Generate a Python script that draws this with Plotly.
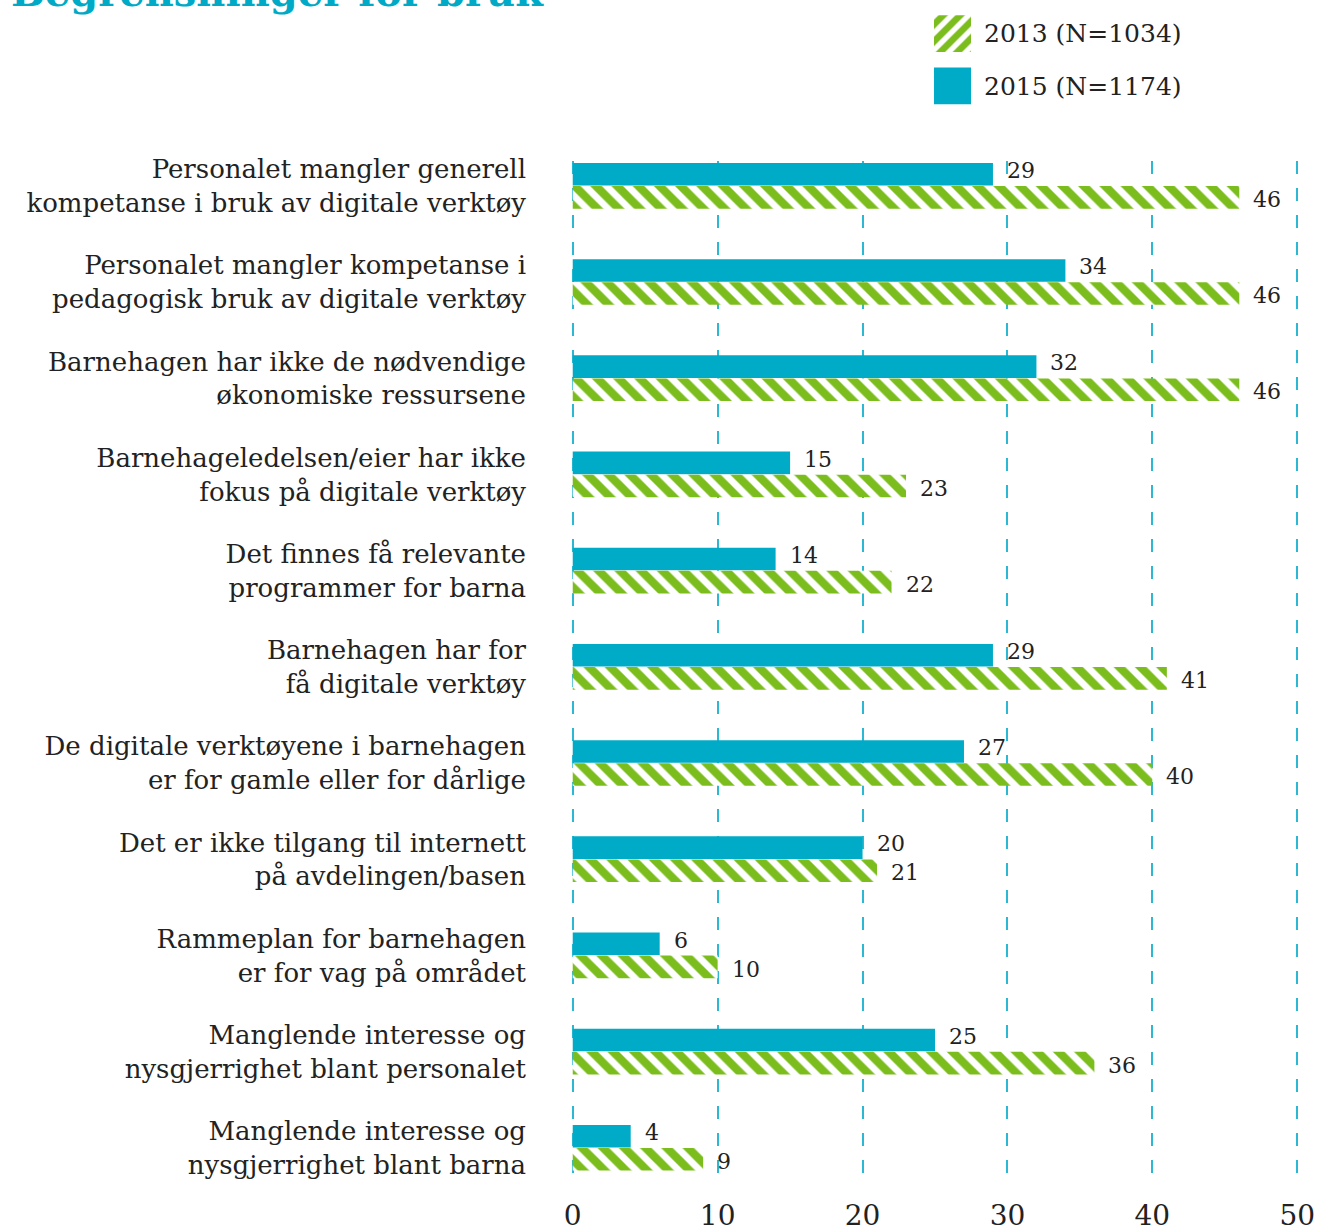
import plotly.graph_objects as go

categories = [
    "Personalet mangler generell<br>kompetanse i bruk av digitale verktøy",
    "Personalet mangler kompetanse i<br>pedagogisk bruk av digitale verktøy",
    "Barnehagen har ikke de nødvendige<br>økonomiske ressursene",
    "Barnehageledelsen/eier har ikke<br>fokus på digitale verktøy",
    "Det finnes få relevante<br>programmer for barna",
    "Barnehagen har for<br>få digitale verktøy",
    "De digitale verktøyene i barnehagen<br>er for gamle eller for dårlige",
    "Det er ikke tilgang til internett<br>på avdelingen/basen",
    "Rammeplan for barnehagen<br>er for vag på området",
    "Manglende interesse og<br>nysgjerrighet blant personalet",
    "Manglende interesse og<br>nysgjerrighet blant barna",
]
values_2015 = [29, 34, 32, 15, 14, 29, 27, 20, 6, 25, 4]
values_2013 = [46, 46, 46, 23, 22, 41, 40, 21, 10, 36, 9]
legend_labels = ["2013 (N=1034)", "2015 (N=1174)"]
x_ticks = [0, 10, 20, 30, 40, 50]
title_text = "Begrensninger for bruk"

BLUE = "#00abc7"
GREEN = "#7cbd1e"
GRID = "#2cb8d2"
TXT = "#222222"
FONT = "DejaVu Serif"

fig = go.Figure()

fig.add_trace(go.Bar(
    y=categories, x=values_2015, orientation="h",
    width=0.235, offset=-0.24,
    marker=dict(color=BLUE, line=dict(width=0)),
    showlegend=False, hoverinfo="x",
))
fig.add_trace(go.Bar(
    y=categories, x=values_2013, orientation="h",
    width=0.235, offset=0.0,
    marker=dict(color="white", line=dict(width=0),
                pattern=dict(shape="\\", size=15, solidity=0.55,
                             fgcolor=GREEN, bgcolor="white", fgopacity=1,
                             fillmode="replace")),
    showlegend=False, hoverinfo="x",
))

# legend swatches on a small auxiliary axis
fig.add_trace(go.Bar(
    y=[legend_labels[0]], x=[1], orientation="h", width=0.7,
    marker=dict(color="white", line=dict(width=0),
                pattern=dict(shape="/", size=12, solidity=0.55,
                             fgcolor=GREEN, bgcolor="white", fgopacity=1,
                             fillmode="replace")),
    xaxis="x2", yaxis="y2", showlegend=False, hoverinfo="skip",
))
fig.add_trace(go.Bar(
    y=[legend_labels[1]], x=[1], orientation="h", width=0.7,
    marker=dict(color=BLUE, line=dict(width=0)),
    xaxis="x2", yaxis="y2", showlegend=False, hoverinfo="skip",
))

annotations = []
for i, v in enumerate(values_2015):
    annotations.append(dict(x=v, y=i - 0.12, xref="x", yref="y", text=str(v),
                            showarrow=False, xanchor="left", yanchor="middle",
                            xshift=12, yshift=4,
                            font=dict(family=FONT, size=22, color=TXT)))
for i, v in enumerate(values_2013):
    annotations.append(dict(x=v, y=i + 0.12, xref="x", yref="y", text=str(v),
                            showarrow=False, xanchor="left", yanchor="middle",
                            xshift=12, yshift=-2,
                            font=dict(family=FONT, size=22, color=TXT)))

annotations.append(dict(text="<b>" + title_text + "</b>", xref="paper", yref="paper",
                        x=-0.7720, y=0.9855, xanchor="left", yanchor="bottom",
                        showarrow=False,
                        font=dict(family=FONT, size=40, color="#00aac6")))

n = len(categories)
fig.update_layout(
    width=1320, height=1231,
    margin=dict(l=571, r=21, t=0, b=58, autoexpand=False),
    paper_bgcolor="white", plot_bgcolor="white",
    barmode="overlay",
    showlegend=False,
    font=dict(family=FONT, color=TXT),
    xaxis=dict(range=[-0.12, 50.12], tickvals=x_ticks, showgrid=True,
               gridcolor=GRID, gridwidth=1.5, griddash="13px,14px",
               zeroline=False, showline=False, ticks="",
               ticklabelstandoff=23, automargin=False,
               tickfont=dict(family=FONT, size=28, color=TXT)),
    yaxis=dict(domain=[0, 0.8627], range=[n - 1 + 0.26, -0.26],
               showgrid=False, zeroline=False, showline=False, ticks="",
               ticklabelstandoff=44, automargin=False,
               tickfont=dict(family=FONT, size=26, color=TXT)),
    xaxis2=dict(domain=[0.4986, 0.5495], range=[0, 1], anchor="y2",
                visible=False, fixedrange=True),
    yaxis2=dict(domain=[0.9045, 0.9936], anchor="x2", side="right",
                range=[1.5, -0.5], showgrid=False, zeroline=False,
                showline=False, ticks="", ticklabelstandoff=12, automargin=False,
                tickfont=dict(family=FONT, size=25, color=TXT)),
    annotations=annotations,
)

fig.write_html("out.html",
               config={"displayModeBar": False},
               post_script="document.body.style.margin='0';document.body.style.overflow='hidden';")
